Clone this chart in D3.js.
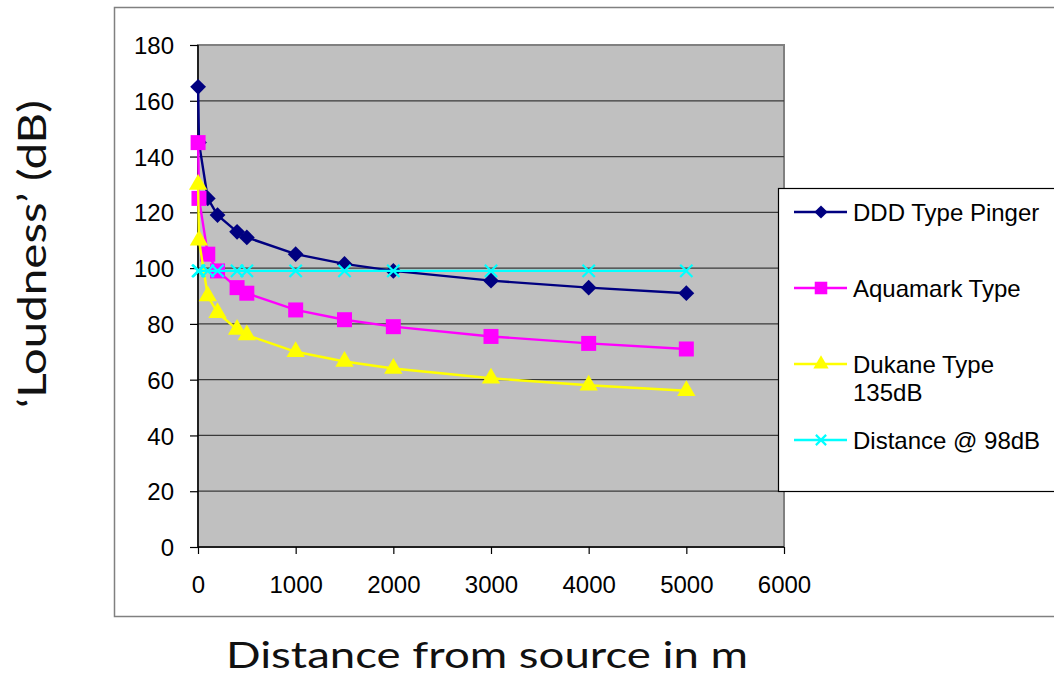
<!DOCTYPE html>
<html>
<head>
<meta charset="utf-8">
<script src="https://cdn.jsdelivr.net/npm/d3@7"></script>
<style>
  html, body { margin: 0; padding: 0; background: #fff; }
  svg { display: block; }
</style>
</head>
<body>
<svg id="chart" width="1054" height="676"></svg>
<script>
// ---- data ----
const distances = [1, 10, 100, 200, 400, 500, 1000, 1500, 2000, 3000, 4000, 5000];
const dddPinger = [165, 145, 125, 119, 113, 111, 105, 101.5, 99, 95.5, 93, 91];
const aquamark  = [145, 125, 105, 99, 93, 91, 85, 81.5, 79, 75.5, 73, 71];
const dukane    = [130, 110, 90, 84, 78, 76, 70, 66.5, 64, 60.5, 58, 56];
const threshold = [99, 99, 99, 99, 99, 99, 99, 99, 99, 99, 99, 99];
const seriesNames = ["DDD Type Pinger", "Aquamark Type", "Dukane Type\n135dB", "Distance @ 98dB"];
const xTicks = [0, 1000, 2000, 3000, 4000, 5000, 6000];
const yTicks = [0, 20, 40, 60, 80, 100, 120, 140, 160, 180];
const xTitle = "Distance from source in m";
const yTitle = "\u2018Loudness\u2019 (dB)";

// ---- layout ----
const svg = d3.select("#chart");
const plot = { left: 198, right: 784, top: 45, bottom: 547 };
const x = d3.scaleLinear().domain([0, 6000]).range([plot.left, plot.right]);
const y = d3.scaleLinear().domain([0, 180]).range([plot.bottom, plot.top]);
const tickFont = "Arial, 'Liberation Sans', sans-serif";

// outer chart border
svg.append("rect").attr("x", 114.5).attr("y", 7.5).attr("width", 1000).attr("height", 609)
  .attr("fill", "#fff").attr("stroke", "#808080").attr("stroke-width", 1.5);

// plot area
svg.append("rect").attr("x", plot.left).attr("y", plot.top)
  .attr("width", plot.right - plot.left).attr("height", plot.bottom - plot.top)
  .attr("fill", "#C0C0C0").attr("stroke", "#808080").attr("stroke-width", 2);

// gridlines
svg.append("g").selectAll("line").data(yTicks.filter(d => d > 0 && d < 180)).join("line")
  .attr("x1", plot.left).attr("x2", plot.right)
  .attr("y1", d => y(d)).attr("y2", d => y(d))
  .attr("stroke", "#3a3a3a").attr("stroke-width", 1.3);

// axes
const yAxis = d3.axisLeft(y).tickValues(yTicks).tickSize(8).tickPadding(16).tickFormat(d3.format("d"));
const gy = svg.append("g").attr("transform", `translate(${plot.left},0)`).call(yAxis);
const xAxis = d3.axisBottom(x).tickValues(xTicks).tickSize(7).tickPadding(22).tickFormat(d3.format("d"));
const gx = svg.append("g").attr("transform", `translate(0,${plot.bottom})`).call(xAxis);
[gx, gy].forEach(g => {
  g.selectAll(".domain").attr("stroke", "#000").attr("stroke-width", 1.5);
  g.selectAll(".tick line").attr("stroke", "#000").attr("stroke-width", 1.2);
  g.selectAll(".tick text").attr("font-family", tickFont).attr("font-size", 24).attr("fill", "#000");
});
gy.select(".domain").attr("d", `M0,${plot.top}V${plot.bottom}`);
gy.selectAll(".tick text").attr("dy", "0.36em");
gx.select(".domain").attr("d", `M${plot.left},0H${plot.right}`);

// series
const series = [
  { name: seriesNames[0], values: dddPinger, color: "#000080", symbol: d3.symbolSquare, size: 125, rot: 45, fill: true },
  { name: seriesNames[1], values: aquamark,  color: "#FF00FF", symbol: d3.symbolSquare,  size: 225, rot: 0, fill: true },
  { name: seriesNames[2], values: dukane,    color: "#FFFF00", symbol: d3.symbolTriangle, size: 145, rot: 0, fill: true },
  { name: seriesNames[3], values: threshold, color: "#00FFFF", symbol: d3.symbolX, size: 100, rot: 0, fill: false },
];

const line = d3.line().x(d => x(d[0])).y(d => y(d[1]));
series.forEach(s => {
  const pts = distances.map((d, i) => [d, s.values[i]]);
  const g = svg.append("g");
  g.append("path").datum(pts).attr("d", line).attr("fill", "none")
    .attr("stroke", s.color).attr("stroke-width", 2.4);
  g.selectAll("path.m").data(pts).join("path").attr("class", "m")
    .attr("transform", d => `translate(${x(d[0])},${y(d[1])}) rotate(${s.rot})`)
    .attr("d", d3.symbol(s.symbol, s.size))
    .attr("fill", s.fill ? s.color : "none")
    .attr("stroke", s.color).attr("stroke-width", s.fill ? 0 : 2.2);
});

// legend
const lg = svg.append("g");
lg.append("rect").attr("x", 778.5).attr("y", 188.5).attr("width", 300).attr("height", 303)
  .attr("fill", "#fff").attr("stroke", "#000").attr("stroke-width", 1.2);
const legendY = [212, 288, 364, 440];
series.forEach((s, i) => {
  const yy = legendY[i];
  lg.append("line").attr("x1", 794).attr("x2", 847).attr("y1", yy).attr("y2", yy)
    .attr("stroke", s.color).attr("stroke-width", 2.4);
  lg.append("path").attr("transform", `translate(821,${yy}) rotate(${s.rot})`)
    .attr("d", d3.symbol(s.symbol, s.size * 0.7))
    .attr("fill", s.fill ? s.color : "none")
    .attr("stroke", s.color).attr("stroke-width", s.fill ? 0 : 2.2);
  const lines = s.name.split("\n");
  const t = lg.append("text").attr("x", 853).attr("y", yy)
    .attr("font-family", tickFont).attr("font-size", 24).attr("fill", "#000");
  lines.forEach((ln, j) => {
    t.append("tspan").attr("x", 853).attr("dy", j === 0 ? "0.36em" : "1.2em").text(ln);
  });
});

// axis titles
const titleFont = "Lato, 'Open Sans', sans-serif";
svg.append("text").attr("x", 487).attr("y", 668).attr("text-anchor", "middle")
  .attr("font-family", titleFont).attr("font-size", 37).attr("fill", "#111")
  .attr("textLength", 522).attr("lengthAdjust", "spacingAndGlyphs")
  .text(xTitle);
svg.append("text").attr("transform", "translate(46,254) rotate(-90)").attr("text-anchor", "middle")
  .attr("font-family", titleFont).attr("font-size", 38).attr("fill", "#111")
  .attr("textLength", 308).attr("lengthAdjust", "spacingAndGlyphs")
  .text(yTitle);
</script>
</body>
</html>
